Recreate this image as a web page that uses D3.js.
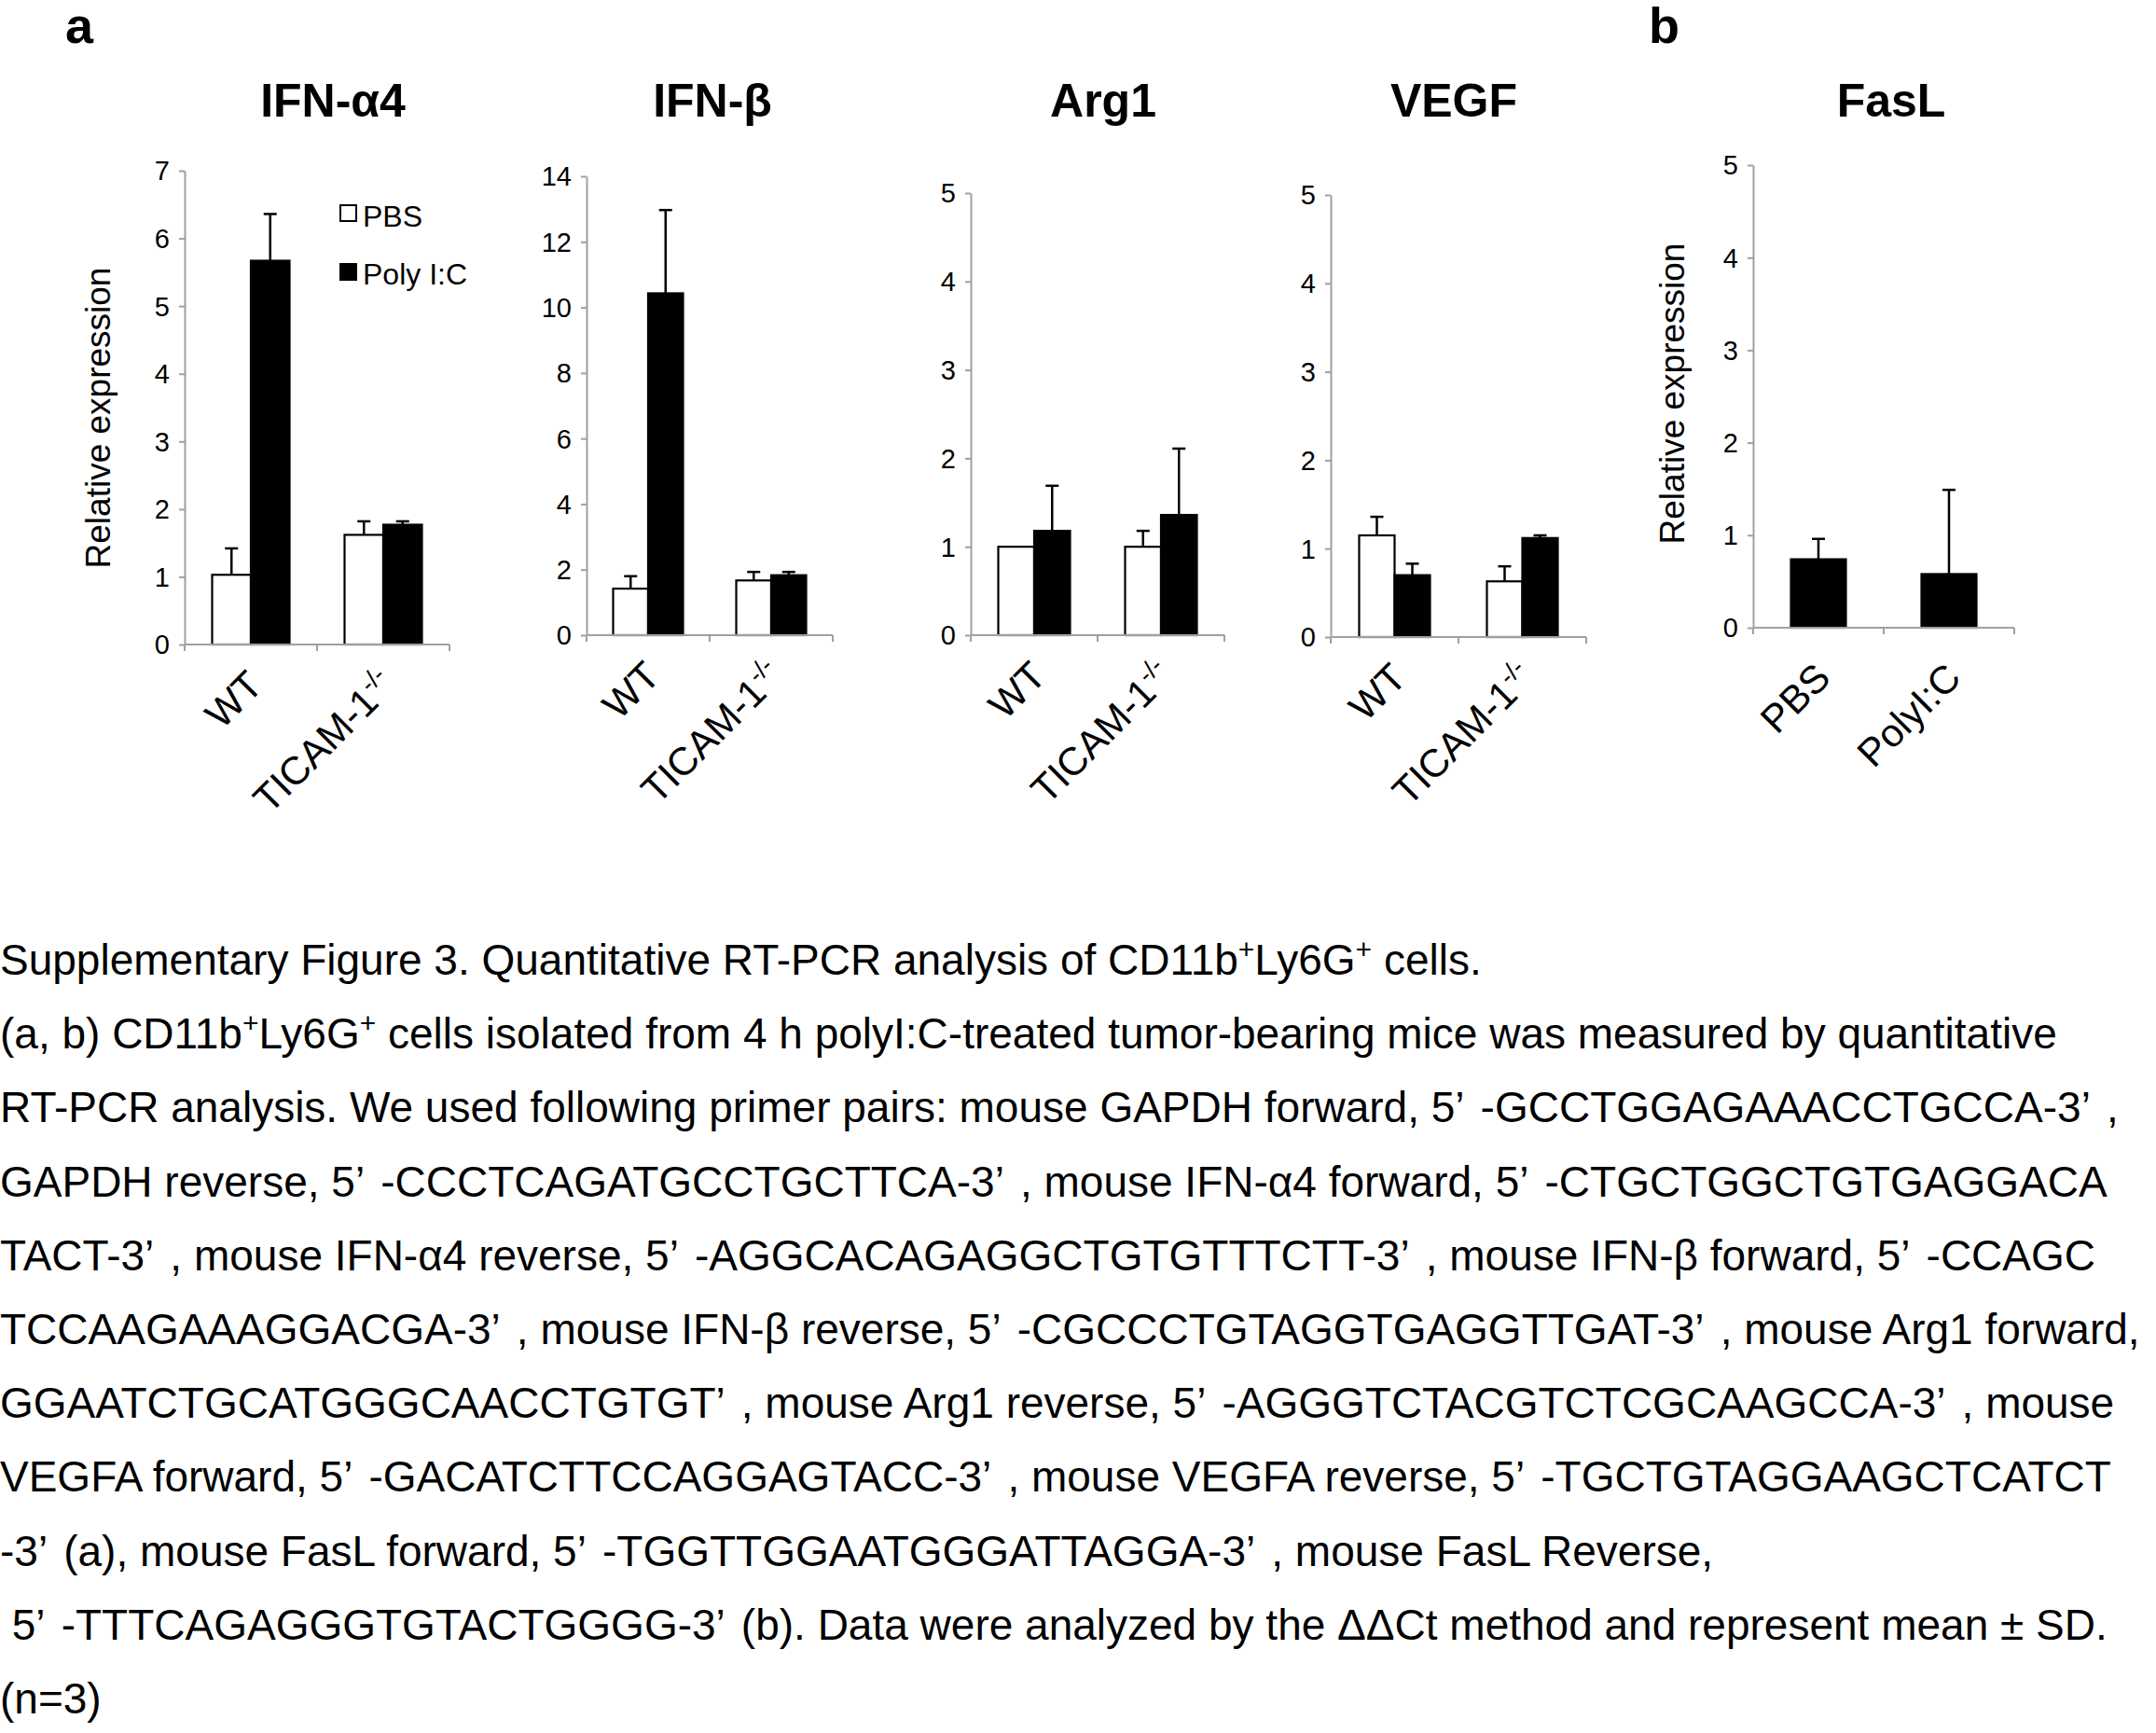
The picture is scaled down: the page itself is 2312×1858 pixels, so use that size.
<!DOCTYPE html>
<html>
<head>
<meta charset="utf-8">
<script src="https://cdn.jsdelivr.net/npm/d3@7"></script>
<style>
  body { margin: 0; background: #fff; }
  svg text { font-family: "Liberation Sans", Arial, sans-serif; fill: #000; }
</style>
</head>
<body>
<script>
// data (mean and SD)
var groups = ["WT", "TICAM-1"];
var treatments = ["PBS", "Poly I:C"];

var ifna4Mean = [[1.03, 1.62], [5.67, 1.77]];
var ifna4Sd   = [[0.39, 0.20], [0.69, 0.05]];

var ifnbMean = [[1.42, 1.67], [10.43, 1.83]];
var ifnbSd   = [[0.38, 0.26], [2.54, 0.10]];

var arg1Mean = [[1.00, 1.00], [1.18, 1.36]];
var arg1Sd   = [[0.00, 0.18], [0.51, 0.75]];

var vegfMean = [[1.15, 0.63], [0.70, 1.12]];
var vegfSd   = [[0.21, 0.17], [0.13, 0.03]];

var faslGroups = ["PBS", "PolyI:C"];
var faslMean = [0.74, 0.58];
var faslSd   = [0.22, 0.91];

var captionLines = [
  "Supplementary Figure 3. Quantitative RT-PCR analysis of CD11b{+}Ly6G{+} cells.",
  "(a, b) CD11b{+}Ly6G{+} cells isolated from 4 h polyI:C-treated tumor-bearing mice was measured by quantitative",
  "RT-PCR analysis. We used following primer pairs: mouse GAPDH forward, 5’ -GCCTGGAGAAACCTGCCA-3’ ,",
  "GAPDH reverse, 5’ -CCCTCAGATGCCTGCTTCA-3’ , mouse IFN-α4 forward, 5’ -CTGCTGGCTGTGAGGACA",
  "TACT-3’ , mouse IFN-α4 reverse, 5’ -AGGCACAGAGGCTGTGTTTCTT-3’ , mouse IFN-β forward, 5’ -CCAGC",
  "TCCAAGAAAGGACGA-3’ , mouse IFN-β reverse, 5’ -CGCCCTGTAGGTGAGGTTGAT-3’ , mouse Arg1 forward,",
  "GGAATCTGCATGGGCAACCTGTGT’ , mouse Arg1 reverse, 5’ -AGGGTCTACGTCTCGCAAGCCA-3’ , mouse",
  "VEGFA forward, 5’ -GACATCTTCCAGGAGTACC-3’ , mouse VEGFA reverse, 5’ -TGCTGTAGGAAGCTCATCT",
  "-3’ (a), mouse FasL forward, 5’ -TGGTTGGAATGGGATTAGGA-3’ , mouse FasL Reverse,",
  " 5’ -TTTCAGAGGGTGTACTGGGG-3’ (b). Data were analyzed by the ΔΔCt method and represent mean ± SD.",
  "(n=3)"
];

var W = 2312, H = 1858;
var axisGrey = "#a0a0a0";

var svg = d3.select("body").append("svg")
  .attr("width", W)
  .attr("height", H);

// panel letters
svg.append("text").attr("x", 70).attr("y", 46)
  .style("font-size", "54px").style("font-weight", "bold").text("a");
svg.append("text").attr("x", 1768).attr("y", 46)
  .style("font-size", "54px").style("font-weight", "bold").text("b");

function drawPanel(p) {
  var g = svg.append("g");

  var x = d3.scaleBand().domain(p.cats).range([p.x0, p.x1]).padding(0);
  var y = d3.scaleLinear().domain([0, p.max]).range([p.y0, p.yTop]);

  // title
  g.append("text")
    .attr("x", p.titleX).attr("y", 125)
    .attr("text-anchor", "middle")
    .style("font-size", "50px").style("font-weight", "bold")
    .text(p.title);

  // bars
  p.series.forEach(function(s, si) {
    var inner = d3.scaleBand().domain(d3.range(p.series.length))
      .range([-p.barW * p.series.length / 2, p.barW * p.series.length / 2]);
    p.cats.forEach(function(c, ci) {
      var cx = x(c) + x.bandwidth() / 2;
      var bx = cx + inner(si);
      var m = s.mean[ci], sd = s.sd[ci];
      if (sd > 0) {
        g.append("line")
          .attr("x1", bx + p.barW / 2).attr("x2", bx + p.barW / 2)
          .attr("y1", y(m)).attr("y2", y(m + sd))
          .attr("stroke", "#000").attr("stroke-width", 2.5);
        g.append("line")
          .attr("x1", bx + p.barW / 2 - 7).attr("x2", bx + p.barW / 2 + 7)
          .attr("y1", y(m + sd)).attr("y2", y(m + sd))
          .attr("stroke", "#000").attr("stroke-width", 2.5);
      }
      g.append("rect")
        .attr("x", bx).attr("y", y(m))
        .attr("width", p.barW).attr("height", y(0) - y(m))
        .attr("fill", s.fill).attr("stroke", "#000").attr("stroke-width", 2.2);
    });
  });

  // y axis
  var yAxis = g.append("g")
    .attr("transform", "translate(" + p.x0 + ",0)")
    .call(d3.axisLeft(y).tickValues(d3.range(0, p.max + 0.001, p.step))
      .tickSize(6).tickSizeOuter(0).tickPadding(10).tickFormat(d3.format("d")));
  yAxis.select(".domain").attr("stroke", axisGrey).attr("stroke-width", 2);
  yAxis.selectAll(".tick line").attr("stroke", axisGrey).attr("stroke-width", 2);
  yAxis.selectAll(".tick text")
    .style("font-size", "29px")
    .attr("font-family", null)
    .attr("dy", "0.34em");

  // x axis with ticks at category boundaries
  var bounds = p.cats.map(function(c) { return x(c); }).concat([p.x1]);
  g.append("line")
    .attr("x1", p.x0).attr("x2", p.x1).attr("y1", p.y0).attr("y2", p.y0)
    .attr("stroke", axisGrey).attr("stroke-width", 2);
  g.selectAll(".xtick").data(bounds).enter().append("line")
    .attr("x1", function(d) { return d; }).attr("x2", function(d) { return d; })
    .attr("y1", p.y0).attr("y2", p.y0 + 7)
    .attr("stroke", axisGrey).attr("stroke-width", 2);

  // rotated category labels
  p.cats.forEach(function(c, ci) {
    var ax = x(c) + x.bandwidth() / 2 + 15;
    var ay = p.y0 + p.labelDy;
    var t = g.append("text")
      .attr("transform", "translate(" + ax + "," + ay + ") rotate(-45)")
      .attr("text-anchor", "end")
      .style("font-size", "42px");
    t.append("tspan").text(c);
    if (p.sup && p.sup[ci]) {
      t.append("tspan").attr("dy", -16).style("font-size", "27px").text(p.sup[ci]);
    }
  });

  // y label
  if (p.yLabelX) {
    g.append("text")
      .attr("transform", "translate(" + p.yLabelX + "," + p.yLabelY + ") rotate(-90)")
      .attr("text-anchor", "middle")
      .style("font-size", "37px")
      .text("Relative expression");
  }
  return { x: x, y: y };
}

function pairSeries(mean, sd) {
  return [
    { name: treatments[0], mean: mean[0], sd: sd[0], fill: "#fff" },
    { name: treatments[1], mean: mean[1], sd: sd[1], fill: "#000" }
  ];
}

var sup = ["", "-/-"];

drawPanel({ title: "IFN-α4", titleX: 357, x0: 198, x1: 482, y0: 691, yTop: 183, max: 7, step: 1,
  cats: groups, sup: sup, series: pairSeries(ifna4Mean, ifna4Sd), barW: 41.5, labelDy: 46,
  yLabelX: 118, yLabelY: 448 });
drawPanel({ title: "IFN-β", titleX: 764, x0: 629, x1: 893, y0: 681, yTop: 189, max: 14, step: 2,
  cats: groups, sup: sup, series: pairSeries(ifnbMean, ifnbSd), barW: 37.5, labelDy: 46 });
drawPanel({ title: "Arg1", titleX: 1183, x0: 1041, x1: 1313, y0: 681, yTop: 207, max: 5, step: 1,
  cats: groups, sup: sup, series: pairSeries(arg1Mean, arg1Sd), barW: 38.5, labelDy: 46 });
drawPanel({ title: "VEGF", titleX: 1559, x0: 1427, x1: 1701, y0: 683, yTop: 209, max: 5, step: 1,
  cats: groups, sup: sup, series: pairSeries(vegfMean, vegfSd), barW: 38, labelDy: 46 });
drawPanel({ title: "FasL", titleX: 2028, x0: 1880, x1: 2160, y0: 673, yTop: 177, max: 5, step: 1,
  cats: faslGroups, series: [{ name: "FasL", mean: faslMean, sd: faslSd, fill: "#000" }],
  barW: 59, labelDy: 56, yLabelX: 1806, yLabelY: 422 });

// legend (IFN-α4 panel)
var legend = svg.append("g");
treatments.forEach(function(t, i) {
  legend.append("rect")
    .attr("x", 365).attr("y", 220 + i * 63)
    .attr("width", 17).attr("height", 17)
    .attr("fill", i === 0 ? "#fff" : "#000")
    .attr("stroke", "#000").attr("stroke-width", 2);
  legend.append("text")
    .attr("x", 389).attr("y", 243 + i * 62)
    .style("font-size", "32px")
    .text(t);
});

// caption, {+} marks a superscript plus; the gap after ’ is a bit wider than a space
var cap = svg.append("g");
captionLines.forEach(function(line, i) {
  var t = cap.append("text")
    .attr("x", 0).attr("y", 1045 + i * 79.2)
    .style("font-size", "46px")
    .style("white-space", "pre");
  var raised = false;
  line.split(/(\{\+\})/).forEach(function(part) {
    if (part === "{+}") {
      t.append("tspan").attr("dy", raised ? 0 : -17).style("font-size", "30px").text("+");
      raised = true;
    } else if (part.length) {
      part.split("’ ").forEach(function(piece, k, all) {
        var s = t.append("tspan")
          .text(piece + (k < all.length - 1 ? "’ " : ""));
        if (k > 0) s.attr("dx", 6);
        if (raised) { s.attr("dy", 17); raised = false; }
      });
    }
  });
});
</script>
</body>
</html>
